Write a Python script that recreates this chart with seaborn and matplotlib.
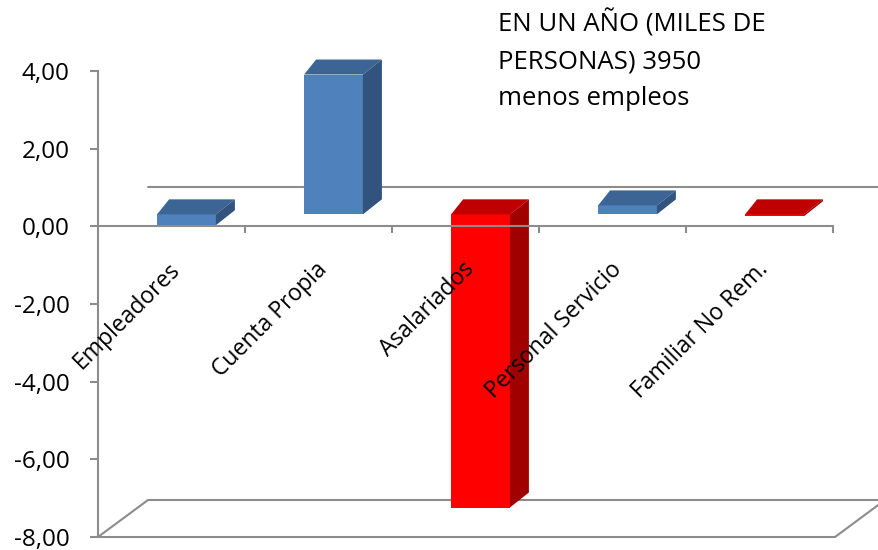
import matplotlib
matplotlib.use("Agg")
import matplotlib.pyplot as plt
import seaborn as sns
import pandas as pd
from matplotlib.patches import Polygon

# ---- data ----
categories = ["Empleadores", "Cuenta Propia", "Asalariados", "Personal Servicio", "Familiar No Rem."]
values = [-0.28, 3.60, -7.55, 0.23, -0.05]
bar_colors = ["#4F81BD", "#4F81BD", "#FF0000", "#4F81BD", "#FF0000"]
top_colors = ["#3C6494", "#3C6494", "#C00000", "#3C6494", "#C00000"]
side_colors = ["#32537E", "#32537E", "#A00000", "#32537E", "#A00000"]
y_ticks = [-8, -6, -4, -2, 0, 2, 4]
y_tick_labels = ["-8,00", "-6,00", "-4,00", "-2,00", "0,00", "2,00", "4,00"]
note = "EN UN AÑO (MILES DE\nPERSONAS) 3950\nmenos empleos"

sns.set_style("white")
plt.rcParams["font.family"] = ["Open Sans", "DejaVu Sans"]

W, H = 879, 550
GRAY = "#8C8C8C"
fig = plt.figure(figsize=(W / 100, H / 100), dpi=100)
ax = fig.add_axes([98 / W, (H - 537) / H, 735 / W, 466 / H])

df = pd.DataFrame({"cat": categories, "val": values})
sns.barplot(data=df, x="cat", y="val", hue="cat", palette=bar_colors, width=0.4,
            saturation=1, legend=False, ax=ax, zorder=2, edgecolor="none")
ax.set_xlim(-0.5, 4.5)
ax.set_ylim(-8, 4)

# pixel -> data scale
p0 = ax.transData.transform((0, 0))
p1 = ax.transData.transform((1, 1))
sx = p1[0] - p0[0]
sy = p1[1] - p0[1]

# floor and back wall zero line (3D frame)
fdx, fdy = 50 / sx, 37 / sy
floor = Polygon([(-0.5, -8), (4.5 + 2 / sx, -8), (4.5 + 2 / sx + fdx, -8 + fdy), (-0.5 + fdx, -8 + fdy)],
                closed=True, facecolor="none", edgecolor=GRAY, lw=1.5, zorder=1, clip_on=False)
ax.add_patch(floor)
ax.plot([-0.5 + fdx, 4.5 + fdx], [39 / sy, 39 / sy], color=GRAY, lw=1.5, zorder=1, clip_on=False)

# 3D bars
dxl, dxr, dy = 12 / sx, 19 / sx, 15 / sy
for patch in list(ax.patches):
    if patch is floor:
        continue
    w = patch.get_width()
    idx = int(round(patch.get_x() + w / 2))
    patch.set_x(patch.get_x() + 15 / sx)
    patch.set_y(patch.get_y() + 12 / sy)
    x0 = patch.get_x()
    x1 = x0 + w
    yb = patch.get_y()
    yt = yb + patch.get_height()
    top, bot = max(yb, yt), min(yb, yt)
    ax.add_patch(Polygon([(x0, top), (x1, top), (x1 + dxr, top + dy), (x0 + dxl, top + dy)],
                         closed=True, facecolor=top_colors[idx], edgecolor="none", zorder=2, clip_on=False))
    ax.add_patch(Polygon([(x1, bot), (x1, top), (x1 + dxr, top + dy), (x1 + dxr, bot + dy)],
                         closed=True, facecolor=side_colors[idx], edgecolor="none", zorder=2, clip_on=False))

# axes styling
for s in ["top", "right"]:
    ax.spines[s].set_visible(False)
ax.spines["bottom"].set_position(("data", 0))
for s in ["left", "bottom"]:
    ax.spines[s].set_color(GRAY)
    ax.spines[s].set_linewidth(1.5)
    ax.spines[s].set_zorder(3)
ax.set_yticks(y_ticks)
ax.set_yticklabels(y_tick_labels)
ax.set_xticks([0.5, 1.5, 2.5, 3.5, 4.5])
ax.set_xticklabels([""] * 5)
ax.tick_params(axis="y", direction="out", length=6, width=1.5, color=GRAY, pad=14.5,
               labelsize=17.5, labelcolor="black", left=True)
ax.tick_params(axis="x", direction="out", length=5, width=1.5, color=GRAY, bottom=True)
ax.set_xlabel("")
ax.set_ylabel("")

for i, c in enumerate(categories):
    ax.text(i - 3 / sx, -0.8, c, rotation=45, rotation_mode="anchor", ha="right", va="top",
            fontsize=16.5, color="black", zorder=4)

fig.text(498 / W, 1 - 9 / H, note, ha="left", va="top", fontsize=18.5, linespacing=1.62, color="black")

fig.savefig("out.png", dpi=100)
